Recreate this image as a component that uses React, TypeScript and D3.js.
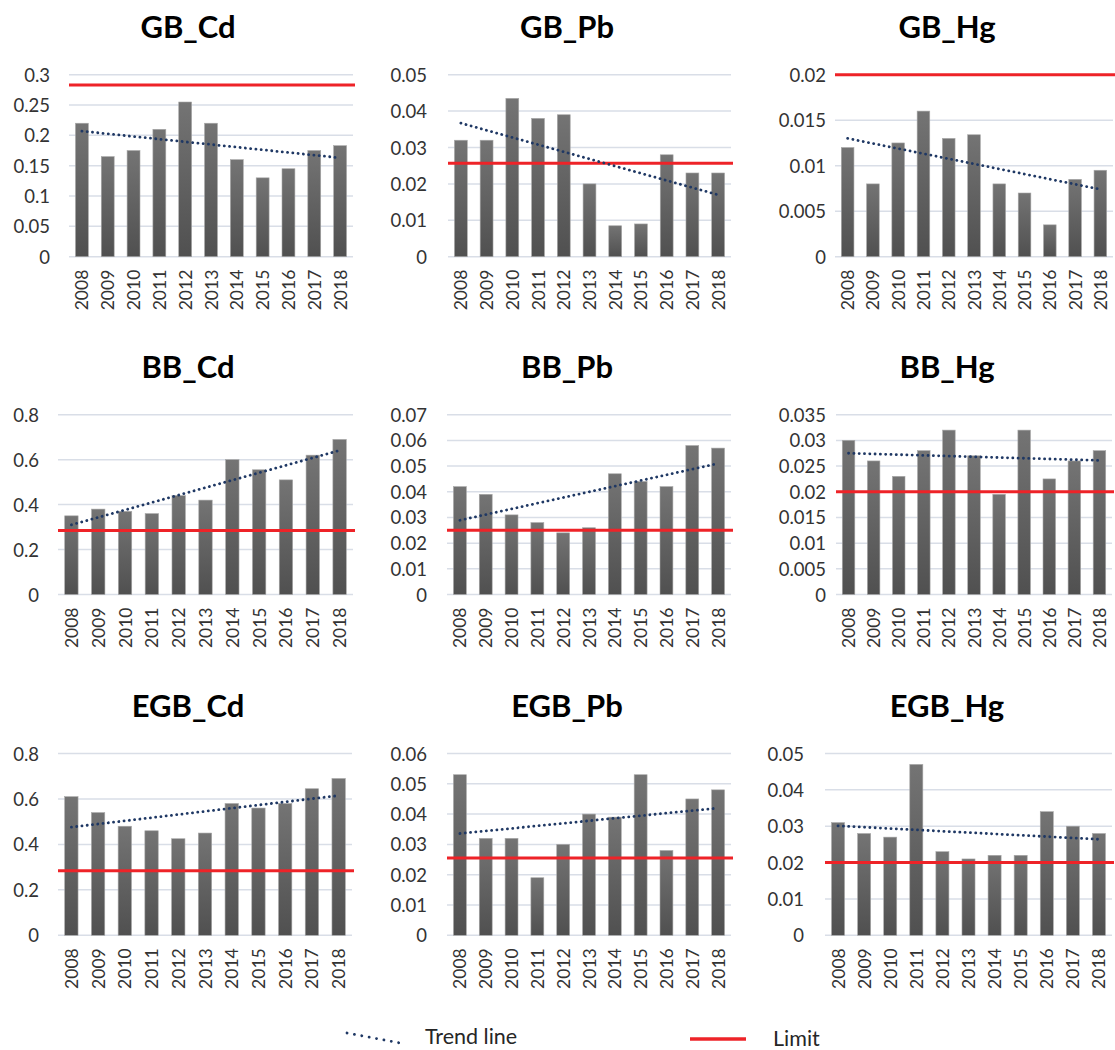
import React, { useRef, useEffect } from 'react';
import * as d3 from 'd3';

const YEARS = ['2008', '2009', '2010', '2011', '2012', '2013', '2014', '2015', '2016', '2017', '2018'];

const TITLES = ['GB_Cd', 'GB_Pb', 'GB_Hg', 'BB_Cd', 'BB_Pb', 'BB_Hg', 'EGB_Cd', 'EGB_Pb', 'EGB_Hg'];

const GB_CD = [0.22, 0.165, 0.175, 0.21, 0.255, 0.22, 0.16, 0.13, 0.145, 0.175, 0.183];
const GB_PB = [0.032, 0.032, 0.0435, 0.038, 0.039, 0.02, 0.0085, 0.009, 0.028, 0.023, 0.023];
const GB_HG = [0.012, 0.008, 0.0125, 0.016, 0.013, 0.0134, 0.008, 0.007, 0.0035, 0.0085, 0.0095];
const BB_CD = [0.35, 0.38, 0.37, 0.36, 0.44, 0.42, 0.6, 0.555, 0.51, 0.62, 0.69];
const BB_PB = [0.042, 0.039, 0.031, 0.028, 0.024, 0.026, 0.047, 0.044, 0.042, 0.058, 0.057];
const BB_HG = [0.03, 0.026, 0.023, 0.028, 0.032, 0.027, 0.0195, 0.032, 0.0225, 0.026, 0.028];
const EGB_CD = [0.61, 0.54, 0.48, 0.46, 0.425, 0.45, 0.58, 0.56, 0.58, 0.645, 0.69];
const EGB_PB = [0.053, 0.032, 0.032, 0.019, 0.03, 0.04, 0.039, 0.053, 0.028, 0.045, 0.048];
const EGB_HG = [0.031, 0.028, 0.027, 0.047, 0.023, 0.021, 0.022, 0.022, 0.034, 0.03, 0.028];

// trend line values at 2008 and 2018
const TRENDS = [
  [0.207, 0.163],
  [0.0367, 0.017],
  [0.013, 0.0074],
  [0.31, 0.641],
  [0.0289, 0.051],
  [0.0275, 0.0261],
  [0.476, 0.615],
  [0.0336, 0.042],
  [0.0301, 0.0264],
];

const LIMITS = [0.283, 0.0257, 0.02, 0.285, 0.025, 0.02, 0.284, 0.0255, 0.02];

const Y_MAX = [0.3, 0.05, 0.02, 0.8, 0.07, 0.035, 0.8, 0.06, 0.05];
const Y_STEP = [0.05, 0.01, 0.005, 0.2, 0.01, 0.005, 0.2, 0.01, 0.01];

const SERIES = [GB_CD, GB_PB, GB_HG, BB_CD, BB_PB, BB_HG, EGB_CD, EGB_PB, EGB_HG];

// plot area per panel: [left, right, tick label right edge]
const PLOT_X = [
  [69, 353, 50], [448, 731, 427], [835, 1113, 826],
  [58, 353, 39], [447, 731, 427], [836, 1112, 826],
  [58, 352, 39], [447, 731, 427], [825, 1112, 804],
];
// rows: [top, bottom, title baseline]
const ROWS = [[74.7, 256.7, 38], [414.7, 594.5, 378], [753.5, 935.3, 717]];
const TITLE_X = [188, 567, 947];

const FONT = 'Lato, "Open Sans", sans-serif';
const TREND_COLOR = '#1f3864';
const LIMIT_COLOR = '#ee2328';

const fmt = (v: number) => String(+v.toFixed(4));

const App: React.FC = () => {
  const svgRef = useRef<SVGSVGElement>(null);

  useEffect(() => {
    if (!svgRef.current) return;
    document.body.style.margin = '0';

    const svg = d3.select(svgRef.current);
    svg.selectAll('*').remove();

    const defs = svg.append('defs');
    const grad = defs.append('linearGradient')
      .attr('id', 'barGrad')
      .attr('x1', 0).attr('y1', 0).attr('x2', 0).attr('y2', 1);
    grad.append('stop').attr('offset', '0%').attr('stop-color', '#747474');
    grad.append('stop').attr('offset', '100%').attr('stop-color', '#505050');

    SERIES.forEach((values, i) => {
      const [left, right, labelRight] = PLOT_X[i];
      const [top, bottom, titleY] = ROWS[Math.floor(i / 3)];
      const g = svg.append('g');

      const x = d3.scaleBand<string>()
        .domain(YEARS)
        .range([left, right])
        .paddingInner(0.5)
        .paddingOuter(0.25);

      const y = d3.scaleLinear()
        .domain([0, Y_MAX[i]])
        .range([bottom, top]);

      const ticks = d3.range(0, Y_MAX[i] + Y_STEP[i] / 2, Y_STEP[i]);

      // title
      g.append('text')
        .attr('x', TITLE_X[i % 3])
        .attr('y', titleY)
        .attr('text-anchor', 'middle')
        .attr('font-family', FONT)
        .attr('font-weight', 'bold')
        .attr('font-size', '31px')
        .attr('fill', '#000')
        .text(TITLES[i]);

      // gridlines
      g.selectAll('.grid')
        .data(ticks)
        .enter()
        .append('line')
        .attr('x1', left)
        .attr('x2', right)
        .attr('y1', d => y(d))
        .attr('y2', d => y(d))
        .attr('stroke', '#d9dee7')
        .attr('stroke-width', 1.5);

      // y tick labels
      g.selectAll('.ytick')
        .data(ticks)
        .enter()
        .append('text')
        .attr('x', labelRight)
        .attr('y', d => y(d))
        .attr('text-anchor', 'end')
        .attr('dominant-baseline', 'central')
        .attr('font-family', FONT)
        .attr('font-size', '18.5px')
        .attr('fill', '#333')
        .text(d => fmt(d));

      // bars
      g.selectAll('.bar')
        .data(values)
        .enter()
        .append('rect')
        .attr('x', (d, j) => x(YEARS[j])!)
        .attr('width', x.bandwidth())
        .attr('y', d => y(d))
        .attr('height', d => bottom - y(d))
        .attr('fill', 'url(#barGrad)')
        .attr('stroke', '#a8a8a8')
        .attr('stroke-width', 0.6);

      // year labels
      g.selectAll('.xtick')
        .data(YEARS)
        .enter()
        .append('text')
        .attr('transform', d => `translate(${x(d)! + x.bandwidth() / 2},${bottom + 13}) rotate(-90)`)
        .attr('text-anchor', 'end')
        .attr('dominant-baseline', 'central')
        .attr('font-family', FONT)
        .attr('font-size', '17.5px')
        .attr('fill', '#333')
        .text(d => d);

      // limit line
      g.append('line')
        .attr('x1', left)
        .attr('x2', right + 2)
        .attr('y1', y(LIMITS[i]))
        .attr('y2', y(LIMITS[i]))
        .attr('stroke', LIMIT_COLOR)
        .attr('stroke-width', 3);

      // trend line
      const trendPts: [string, number][] = [[YEARS[0], TRENDS[i][0]], [YEARS[YEARS.length - 1], TRENDS[i][1]]];
      const line = d3.line<[string, number]>()
        .x(d => x(d[0])! + x.bandwidth() / 2)
        .y(d => y(d[1]));
      g.append('path')
        .attr('d', line(trendPts)!)
        .attr('fill', 'none')
        .attr('stroke', TREND_COLOR)
        .attr('stroke-width', 2.8)
        .attr('stroke-linecap', 'round')
        .attr('stroke-dasharray', '0.1 5.2');
    });

    // legend
    const legend = svg.append('g');
    legend.append('line')
      .attr('x1', 347).attr('y1', 1033)
      .attr('x2', 400).attr('y2', 1043)
      .attr('stroke', TREND_COLOR)
      .attr('stroke-width', 2.8)
      .attr('stroke-linecap', 'round')
      .attr('stroke-dasharray', '0.1 7.4');
    legend.append('text')
      .attr('x', 425).attr('y', 1044)
      .attr('font-family', FONT)
      .attr('font-size', '21.5px')
      .attr('fill', '#262626')
      .text('Trend line');
    legend.append('line')
      .attr('x1', 690).attr('y1', 1039)
      .attr('x2', 746).attr('y2', 1039)
      .attr('stroke', LIMIT_COLOR)
      .attr('stroke-width', 3.5);
    legend.append('text')
      .attr('x', 773).attr('y', 1046)
      .attr('font-family', FONT)
      .attr('font-size', '21.5px')
      .attr('fill', '#262626')
      .text('Limit');
  }, []);

  return (
    <svg
      ref={svgRef}
      width={1115}
      height={1050}
      style={{ display: 'block', background: '#fff' }}
    />
  );
};

export default App;
